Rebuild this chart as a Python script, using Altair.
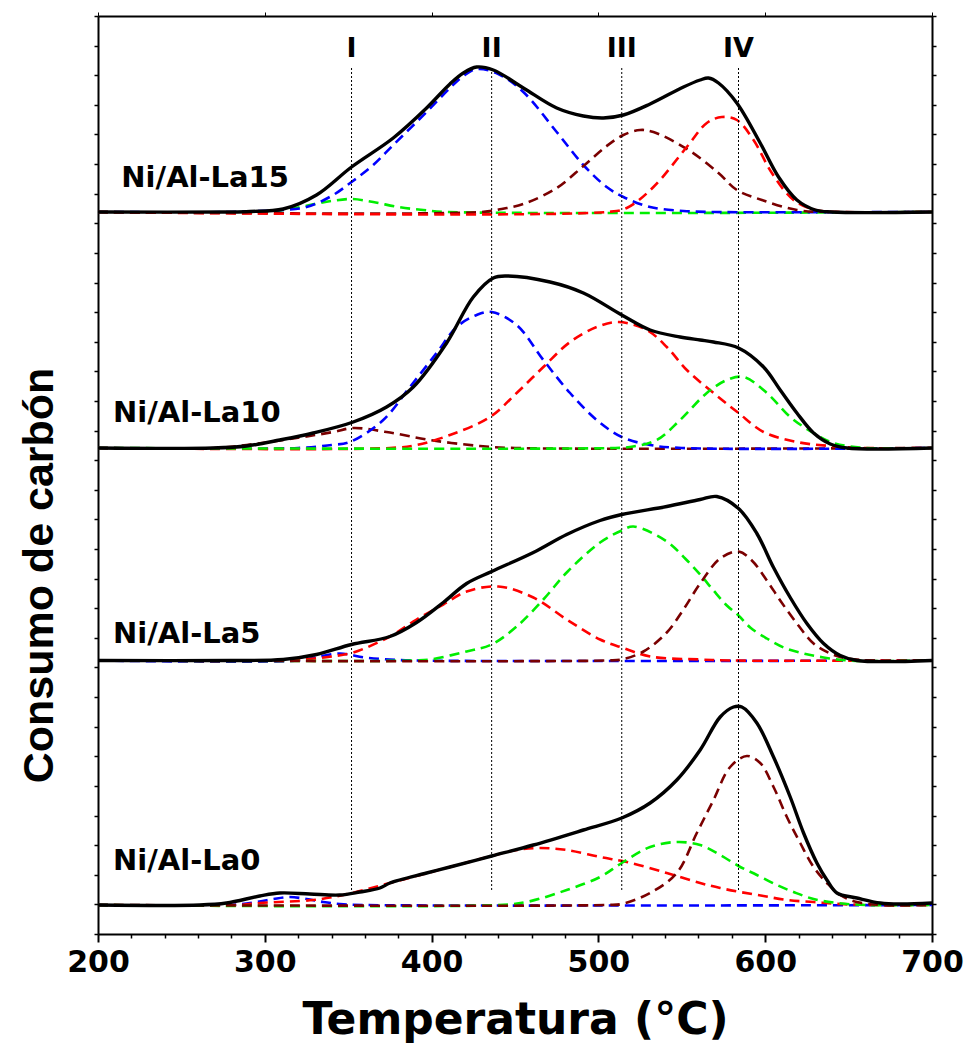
import altair as alt
import pandas as pd

# ---------------- data (intensity in arbitrary units) ----------------
SAMPLES = ["Ni/Al-La15", "Ni/Al-La10", "Ni/Al-La5", "Ni/Al-La0"]
OFFSETS = {"Ni/Al-La15": 722, "Ni/Al-La10": 486, "Ni/Al-La5": 273.5, "Ni/Al-La0": 29}

# Ni/Al-La15
la15_total_T = [200, 280, 291, 311, 331, 352, 377, 397, 411, 419, 427, 437, 455, 475, 491, 503, 515, 531, 551, 561, 566, 572, 583, 597, 608, 619, 630, 640, 700]
la15_total_v = [0, 0, 0.5, 3, 17, 45, 74, 104, 128, 139, 145, 142, 124, 104, 96, 94, 97, 108, 125, 132, 134, 129, 109, 69, 35, 12, 2, 0, 0]
la15_blue_T = [200, 280, 295, 311, 325, 340, 352, 365, 377, 397, 411, 419, 427, 440, 455, 475, 491, 505, 515, 531, 551, 570, 700]
la15_blue_v = [0, 0, 1, 2, 5, 16, 30, 47, 67, 100, 124, 136, 143, 138, 120, 80, 47, 25, 15, 5, 1, 0, 0]
la15_green_T = [200, 300, 315, 330, 340, 352, 365, 380, 395, 410, 700]
la15_green_v = [0, 0, 3, 8, 11, 13, 10, 5, 2, 0, 0]
la15_maroon_T = [200, 430, 442, 455, 475, 491, 505, 515, 525, 533, 554, 572, 583, 598, 619, 640, 700]
la15_maroon_v = [0, 0, 3, 8, 24, 46, 66, 77, 82, 80, 62, 39, 22, 12, 2, 0, 0]
la15_red_T = [200, 505, 517, 533, 553, 565, 574, 583, 593, 604, 617, 630, 645, 700]
la15_red_v = [0, 0, 4, 25, 65, 89, 95, 92, 72, 39, 12, 2, 0, 0]

# Ni/Al-La10
la10_total_T = [200, 269, 289, 309, 329, 353, 373, 389, 409, 425, 437, 445, 471, 491, 514, 531, 549, 561, 569, 584, 599, 609, 619, 629, 639, 649, 700]
la10_total_v = [0, 0, 2, 8, 15, 26, 41, 61, 105, 151, 170, 172, 166, 155, 133, 118, 111, 108, 106, 100, 81, 58, 35, 15, 4, 0, 0]
la10_blue_T = [200, 320, 340, 351, 371, 387, 403, 415, 427, 436, 451, 467, 483, 499, 514, 531, 550, 700]
la10_blue_v = [0, 0, 3, 6, 28, 61, 95, 121, 133, 136, 123, 88, 55, 28, 11, 3, 0, 0]
la10_maroon_T = [200, 270, 289, 319, 341, 353, 373, 399, 429, 450, 700]
la10_maroon_v = [0, 0, 3, 10, 16, 20, 16, 8, 2, 0, 0]
la10_red_T = [200, 375, 391, 411, 435, 451, 467, 483, 499, 512, 529, 541, 553, 569, 584, 599, 619, 639, 660, 700]
la10_red_v = [0, 0, 3, 13, 31, 55, 81, 106, 121, 126, 118, 101, 78, 55, 35, 16, 6, 2, 0, 0]
la10_green_T = [200, 510, 519, 535, 549, 565, 577, 587, 601, 615, 629, 641, 660, 700]
la10_green_v = [0, 0, 1, 8, 28, 55, 68, 71, 55, 31, 15, 5, 0, 0]

# Ni/Al-La5
la5_total_T = [200, 280, 311, 331, 352, 375, 391, 407, 421, 436, 461, 481, 501, 514, 541, 561, 571, 584, 595, 605, 615, 625, 635, 645, 655, 700]
la5_total_v = [0, 0, 1, 6, 16, 24, 38, 58, 77, 89, 108, 126, 140, 146, 154, 161, 164, 152, 127, 93, 63, 37, 17, 5, 0, 0]
la5_blue_T = [200, 320, 330, 345, 360, 375, 390, 700]
la5_blue_v = [0, 0, 3, 7, 3, 1, 0, 0]
la5_red_T = [200, 300, 330, 340, 353, 375, 391, 407, 421, 440, 461, 481, 501, 514, 531, 561, 580, 700]
la5_red_v = [0, 0, 2, 4, 8, 24, 41, 56, 69, 74, 63, 41, 21, 13, 4, 1, 0, 0]
la5_green_T = [200, 390, 399, 421, 436, 451, 467, 481, 501, 514, 521, 541, 552, 561, 569, 577, 584, 591, 601, 611, 623, 635, 650, 700]
la5_green_v = [0, 0, 1, 9, 16, 34, 61, 88, 118, 130, 134, 119, 102, 86, 70, 55, 45, 33, 22, 13, 7, 3, 0, 0]
la5_maroon_T = [200, 505, 514, 527, 541, 551, 561, 573, 584, 592, 601, 609, 619, 629, 639, 649, 665, 700]
la5_maroon_v = [0, 0, 1, 9, 28, 51, 77, 102, 109, 100, 80, 60, 37, 17, 7, 2, 0, 0]

# Ni/Al-La0
la0_total_T = [200, 261, 277, 297, 309, 327, 345, 357, 369, 375, 397, 411, 436, 461, 491, 514, 531, 547, 561, 573, 581, 586, 595, 605, 615, 623, 631, 637, 643, 655, 669, 681, 700]
la0_total_v = [0, 0, 2, 9, 12, 11, 10, 13, 17, 22, 32, 38, 49, 60, 75, 87, 102, 125, 155, 188, 198, 198, 182, 148, 108, 72, 42, 25, 12, 7, 2, 1, 2]
la0_blue_T = [200, 280, 295, 305, 315, 325, 335, 345, 360, 700]
la0_blue_v = [0, 0, 3, 6, 8, 6, 3, 1, 0, 0]
la0_red_T = [200, 285, 297, 329, 347, 375, 411, 436, 451, 465, 481, 501, 517, 541, 561, 573, 585, 599, 613, 629, 645, 665, 700]
la0_red_v = [0, 0, 2, 5, 10, 22, 38, 49, 55, 57, 55, 48, 43, 32, 22, 17, 13, 9, 5, 3, 1, 0, 0]
la0_green_T = [200, 440, 457, 481, 501, 514, 531, 547, 561, 573, 584, 595, 607, 617, 629, 643, 660, 700]
la0_green_v = [0, 0, 3, 15, 28, 42, 58, 63, 60, 50, 39, 30, 20, 13, 6, 2, 0, 0]
la0_maroon_T = [200, 505, 514, 531, 547, 559, 569, 579, 589, 597, 605, 613, 621, 629, 637, 645, 655, 670, 700]
la0_maroon_v = [0, 0, 1, 12, 32, 72, 105, 138, 149, 142, 118, 88, 62, 38, 22, 10, 3, 0, 0]

# region markers
REGION_LABELS = ["I", "II", "III", "IV"]
REGION_T = [352, 436, 514, 584]
REGION_LINE_TOP = 866
REGION_LINE_BOTTOM = 44
REGION_LABEL_Y = 877

# sample labels
LABEL_T = [214, 209, 209, 209]
LABEL_Y = [747, 512, 291, 64]

Y_MAX = 918
X_TICKS = [200, 300, 400, 500, 600, 700]
X_MINOR = [t for t in range(220, 700, 20) if t % 100 != 0]
Y_TICKS = [i * Y_MAX / 31 for i in range(32)]

curves = {
    "Ni/Al-La15": {"total": (la15_total_T, la15_total_v), "green": (la15_green_T, la15_green_v),
                   "blue": (la15_blue_T, la15_blue_v), "maroon": (la15_maroon_T, la15_maroon_v),
                   "red": (la15_red_T, la15_red_v)},
    "Ni/Al-La10": {"total": (la10_total_T, la10_total_v), "maroon": (la10_maroon_T, la10_maroon_v),
                   "blue": (la10_blue_T, la10_blue_v), "red": (la10_red_T, la10_red_v),
                   "green": (la10_green_T, la10_green_v)},
    "Ni/Al-La5": {"total": (la5_total_T, la5_total_v), "blue": (la5_blue_T, la5_blue_v),
                  "red": (la5_red_T, la5_red_v), "green": (la5_green_T, la5_green_v),
                  "maroon": (la5_maroon_T, la5_maroon_v)},
    "Ni/Al-La0": {"total": (la0_total_T, la0_total_v), "blue": (la0_blue_T, la0_blue_v),
                  "red": (la0_red_T, la0_red_v), "green": (la0_green_T, la0_green_v),
                  "maroon": (la0_maroon_T, la0_maroon_v)},
}

rows = []
for s in SAMPLES:
    for comp, (ts, vs) in curves[s].items():
        for t, v in zip(ts, vs):
            rows.append({"sample": s, "comp": comp, "key": s + "|" + comp,
                         "T": t, "y": OFFSETS[s] + v})
df = pd.DataFrame(rows)
df_comp = df[df["comp"] != "total"]
df_total = df[df["comp"] == "total"]

df_regions = pd.DataFrame({"label": REGION_LABELS, "T": REGION_T,
                           "top": [REGION_LINE_TOP] * 4, "bottom": [REGION_LINE_BOTTOM] * 4,
                           "ly": [REGION_LABEL_Y] * 4})
df_labels = pd.DataFrame({"label": SAMPLES, "T": LABEL_T, "y": LABEL_Y})

xscale = alt.Scale(domain=[200, 700], nice=False, zero=False)
yscale = alt.Scale(domain=[0, Y_MAX], nice=False, zero=False)

x_main = alt.X("T:Q", scale=xscale, axis=alt.Axis(
    values=X_TICKS, tickSize=8, tickWidth=2, domainWidth=2, domainColor="black", tickColor="black",
    labelFont="DejaVu Sans", labelFontSize=30, labelFontWeight="bold", labelColor="black",
    labelPadding=5, labelFlush=False, labelOverlap=False, grid=False, orient="bottom",
    title="Temperatura (°C)", titleFont="DejaVu Sans",
    titleFontSize=44, titleFontWeight="bold", titleColor="black", titleY=99,
    titleBaseline="alphabetic"))
y_main = alt.Y("y:Q", scale=yscale, axis=alt.Axis(
    values=Y_TICKS, tickSize=4, tickWidth=1.5, domainWidth=2, domainColor="black", tickColor="black",
    labels=False, grid=False, orient="left", title="Consumo de carbón", titleFont="Liberation Sans",
    titleFontSize=43, titleFontWeight="bold", titleColor="black", titleAngle=270,
    titleX=-46, titleY=559, titleAlign="center", titleBaseline="alphabetic"))

x_plain = alt.X("T:Q", scale=xscale, axis=None)
y_plain = alt.Y("y:Q", scale=yscale, axis=None)

comp_lines = alt.Chart(df_comp).mark_line(strokeWidth=2.6, strokeDash=[10, 6], interpolate="catmull-rom").encode(
    x=x_main, y=y_main,
    color=alt.Color("comp:N", legend=None,
                    scale=alt.Scale(domain=["blue", "red", "green", "maroon"],
                                    range=["#0000FF", "#FF0000", "#00EE00", "#7A0000"])),
    detail="key:N", order="T:Q")

total_lines = alt.Chart(df_total).mark_line(strokeWidth=3.4, color="black", interpolate="catmull-rom").encode(
    x=x_plain, y=y_plain, detail="key:N", order="T:Q")

region_rules = alt.Chart(df_regions).mark_rule(color="black", strokeWidth=1, strokeDash=[2, 2]).encode(
    x=x_plain, y=alt.Y("top:Q", scale=yscale, axis=None), y2="bottom:Q")

region_text = alt.Chart(df_regions).mark_text(font="DejaVu Sans", fontSize=27, fontWeight="bold",
                                              align="center", baseline="alphabetic", color="black").encode(
    x=x_plain, y=alt.Y("ly:Q", scale=yscale, axis=None), text="label:N")

sample_text = alt.Chart(df_labels).mark_text(font="DejaVu Sans", fontSize=29, fontWeight="bold",
                                             align="left", baseline="alphabetic", color="black").encode(
    x=x_plain, y=y_plain, text="label:N")

# extra axes: minor x ticks (bottom), right y ticks, top x ticks
anchor = pd.DataFrame({"T": [200], "y": [0]})
minor_layer = alt.Chart(anchor).mark_point(opacity=0).encode(
    x=alt.X("T:Q", scale=xscale, axis=alt.Axis(values=X_MINOR, tickSize=4, tickWidth=1.5,
                                               tickColor="black", labels=False, domain=False,
                                               grid=False, orient="bottom", title=None)),
    y=alt.Y("y:Q", scale=yscale, axis=alt.Axis(values=Y_TICKS, tickSize=4, tickWidth=1.5,
                                               tickColor="black", labels=False, domainWidth=2,
                                               domainColor="black", grid=False, orient="right",
                                               title=None)))
top_layer = alt.Chart(anchor).mark_point(opacity=0).encode(
    x=alt.X("T:Q", scale=xscale, axis=alt.Axis(values=X_TICKS, tickSize=4, tickWidth=1,
                                               tickColor="black", labels=False, domainWidth=2,
                                               domainColor="black", grid=False, orient="top",
                                               title=None)),
    y=y_plain)

chart = alt.layer(
    comp_lines, total_lines, region_rules, region_text, sample_text, minor_layer, top_layer
).resolve_axis(x="independent", y="independent").properties(
    width=834, height=918,
    autosize=alt.AutoSizeParams(type="none"),
    padding={"left": 98, "top": 16, "right": 35, "bottom": 109},
).configure_view(stroke="black", strokeWidth=2).configure(background="white")

chart.save("out.html", embed_options={"renderer": "svg", "actions": False})
